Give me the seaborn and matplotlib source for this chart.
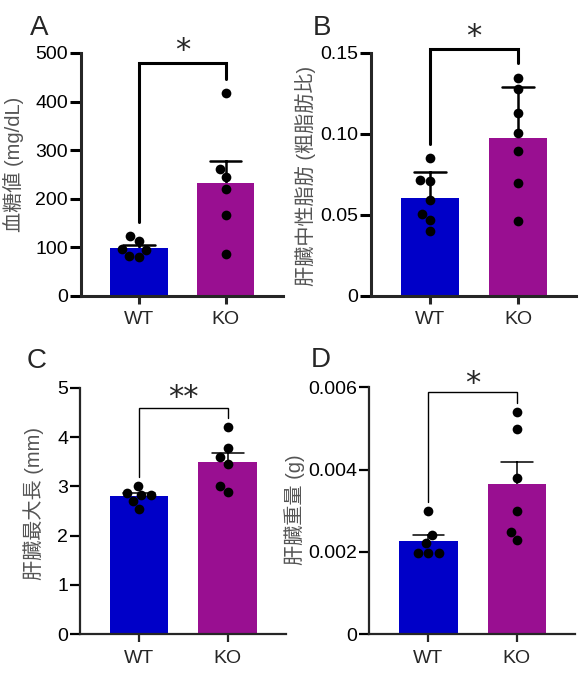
import pandas as pd
import seaborn as sns
import matplotlib.pyplot as plt

# values
groups = ['WT', 'KO']
palette = {'WT': '#0000C8', 'KO': '#990F91'}

glucose_wt = [113.2, 122.8, 97.4, 95.3, 80.9, 83.0]
glucose_ko = [417.7, 262.0, 244.9, 220.8, 166.0, 87.1]

liver_tg_wt = [0.0854, 0.0708, 0.0714, 0.0595, 0.0508, 0.0469, 0.0401]
liver_tg_ko = [0.1348, 0.1280, 0.1130, 0.1006, 0.0895, 0.0698, 0.0461]

liver_len_wt = [3.01, 2.82, 2.55, 2.87, 2.70, 2.82]
liver_len_ko = [4.20, 3.77, 3.45, 3.59, 2.89, 3.01]

liver_wt_wt = [0.00300, 0.00241, 0.00221, 0.00198, 0.00198, 0.00198]
liver_wt_ko = [0.00539, 0.00499, 0.00379, 0.00300, 0.00249, 0.00229]

ylabels = ['血糖値 (mg/dL)', '肝臓中性脂肪 (粗脂肪比)', '肝臓最大長 (mm)', '肝臓重量 (g)']
yticks_A = [0, 100, 200, 300, 400, 500]
yticks_B = [0, 0.05, 0.10, 0.15]
ytick_labels_B = ['0', '0.05', '0.10', '0.15']
yticks_C = [0, 1, 2, 3, 4, 5]
yticks_D = [0, 0.002, 0.004, 0.006]
ytick_labels_D = ['0', '0.002', '0.004', '0.006']
stars = ['*', '*', '**', '*']

sns.set_style('ticks')
plt.rcParams['font.family'] = ['Liberation Sans', 'Noto Sans CJK JP', 'DejaVu Sans']

panels = [
    dict(letter='A', wt=glucose_wt, ko=glucose_ko, err='se', ylim=500,
         yticks=yticks_A, ytl=[str(t) for t in yticks_A],
         rect=[0.1389, 0.5602, 0.3465, 0.3611], thick=True,
         bracket=(152, 480, 446.5), star_dy=4, lab=(-0.332, 0.54), letter_xy=(30, 35)),
    dict(letter='B', wt=liver_tg_wt, ko=liver_tg_ko, err='sd', ylim=0.15,
         yticks=yticks_B, ytl=ytick_labels_B,
         rect=[0.6364, 0.5602, 0.3516, 0.3611], thick=True,
         bracket=(0.0938, 0.1525, 0.1438), star_dy=4, lab=(-0.322, 0.496), letter_xy=(313, 35)),
    dict(letter='C', wt=liver_len_wt, ko=liver_len_ko, err='se', ylim=5,
         yticks=yticks_C, ytl=[str(t) for t in yticks_C],
         rect=[0.1372, 0.0575, 0.3533, 0.3664], thick=False,
         bracket=(3.195, 4.58, 4.386), star_dy=2, lab=(-0.223, 0.532), letter_xy=(27, 368)),
    dict(letter='D', wt=liver_wt_wt, ko=liver_wt_ko, err='se', ylim=0.006,
         yticks=yticks_D, ytl=ytick_labels_D,
         rect=[0.6334, 0.0575, 0.3528, 0.3670], thick=False,
         bracket=(0.003221, 0.005879, 0.005626), star_dy=0, lab=(-0.361, 0.503), letter_xy=(311, 367)),
]

fig = plt.figure(figsize=(5.83, 6.73), dpi=100)
W, H = 583, 673

for i, p in enumerate(panels):
    df = pd.DataFrame({
        'group': ['WT'] * len(p['wt']) + ['KO'] * len(p['ko']),
        'value': p['wt'] + p['ko'],
    })
    spine_w = 2.2 if p['thick'] else 1.6
    err_w = 1.8 if p['thick'] else 1.1
    br_w = 2.2 if p['thick'] else 1.0

    ax = fig.add_axes(p['rect'])
    sns.barplot(data=df, x='group', y='value', hue='group', order=groups,
                palette=palette, saturation=1, width=0.66, linewidth=0,
                errorbar=p['err'], capsize=0.36,
                err_kws={'color': 'black', 'linewidth': err_w, 'zorder': 0.9},
                legend=False, ax=ax)
    sns.swarmplot(data=df, x='group', y='value', order=groups, color='black',
                  size=7, ax=ax, zorder=3)

    ax.set_xlim(-0.67, 1.66)
    ax.set_ylim(0, p['ylim'])
    ax.set_yticks(p['yticks'])
    ax.set_yticklabels(p['ytl'])
    ax.set_xlabel('')
    ax.set_ylabel(ylabels[i], fontsize=14.5, color='#555555', va='center')
    ax.yaxis.set_label_coords(*p['lab'])
    sns.despine(ax=ax)
    for s in ['left', 'bottom']:
        ax.spines[s].set_linewidth(spine_w)
    ax.tick_params(axis='y', length=8 if p['thick'] else 7, width=spine_w,
                   labelsize=14, pad=1.5, colors='black')
    ax.tick_params(axis='x', length=6, width=spine_w, labelsize=14, pad=5)

    lo_l, top, lo_r = p['bracket']
    ax.plot([0, 0, 1, 1], [lo_l, top, top, lo_r], color='black', lw=br_w,
            clip_on=False, solid_joinstyle='miter', zorder=4)
    ax.annotate(stars[i], xy=(0.5, top), xytext=(0, p['star_dy'] * 0.72),
                textcoords='offset points', ha='center', va='baseline',
                fontsize=22, family='DejaVu Sans', annotation_clip=False)

    lx, ly = p['letter_xy']
    fig.text(lx / W, 1 - ly / H, p['letter'], fontsize=20, ha='left',
             va='baseline')

fig.savefig('out.png', dpi=100)
